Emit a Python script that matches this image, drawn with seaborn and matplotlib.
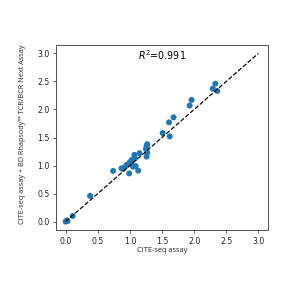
import matplotlib
matplotlib.use("Agg")
import matplotlib.pyplot as plt
import seaborn as sns
import pandas as pd

cite_seq = [0.00, 0.02, 0.03, 0.11, 0.38, 0.74, 0.87, 0.89, 0.92, 0.95, 0.99, 1.00,
            1.02, 1.03, 1.05, 1.07, 1.08, 1.09, 1.13, 1.15, 1.25, 1.26, 1.26, 1.27,
            1.27, 1.51, 1.62, 1.61, 1.68, 1.93, 1.96, 2.29, 2.33, 2.36]
bd_rhapsody = [0.00, 0.02, 0.01, 0.10, 0.46, 0.905, 0.95, 0.94, 0.97, 1.01, 0.86, 1.06,
               1.04, 1.10, 0.98, 1.19, 1.13, 0.99, 0.91, 1.22, 1.30, 1.16, 1.34, 1.38,
               1.23, 1.58, 1.52, 1.77, 1.86, 2.07, 2.17, 2.37, 2.46, 2.33]
r2_label = "$R^2$=0.991"
x_label = "CITE-seq assay"
y_label = "CITE-seq assay + BD Rhapsody\u2122 TCR/BCR Next Assay"
ticks = [0.0, 0.5, 1.0, 1.5, 2.0, 2.5, 3.0]
identity = [0.0, 3.0]

df = pd.DataFrame({"x": cite_seq, "y": bd_rhapsody})

sns.set_style("ticks")
plt.rcParams["font.family"] = ["DejaVu Sans"]

fig = plt.figure(figsize=(298 / 72, 298 / 72), dpi=72)
ax = fig.add_axes([56 / 298, 1 - 230 / 298, (268 - 56) / 298, (230 - 45) / 298])

sns.lineplot(x=identity, y=identity, ax=ax, color="black", linestyle="--",
             linewidth=1.2, zorder=3)
sns.scatterplot(data=df, x="x", y="y", ax=ax, color="#1f77b4", s=36,
                edgecolor="none", zorder=2)

ax.set_xlim(-0.15, 3.15)
ax.set_ylim(-0.15, 3.15)
ax.set_xticks(ticks)
ax.set_yticks(ticks)
ax.set_xticklabels([f"{t:.1f}" for t in ticks])
ax.set_yticklabels([f"{t:.1f}" for t in ticks])
ax.tick_params(labelsize=7.8, length=3, width=0.8, color="#333333", labelcolor="#222222")
for sp in ax.spines.values():
    sp.set_color("#555555")
    sp.set_linewidth(1.0)

ax.set_xlabel(x_label, fontsize=7.4, family="Open Sans", color="#222222", labelpad=1.5)
ax.set_ylabel(y_label, fontsize=7.3, family="Open Sans", color="#222222", labelpad=1.5)
ax.yaxis.set_label_coords(-0.14, 0.52)
ax.text(0.5, 0.985, r2_label, transform=ax.transAxes, ha="center", va="top",
        fontsize=9.5, color="black")

fig.savefig("out.png", dpi=72)
